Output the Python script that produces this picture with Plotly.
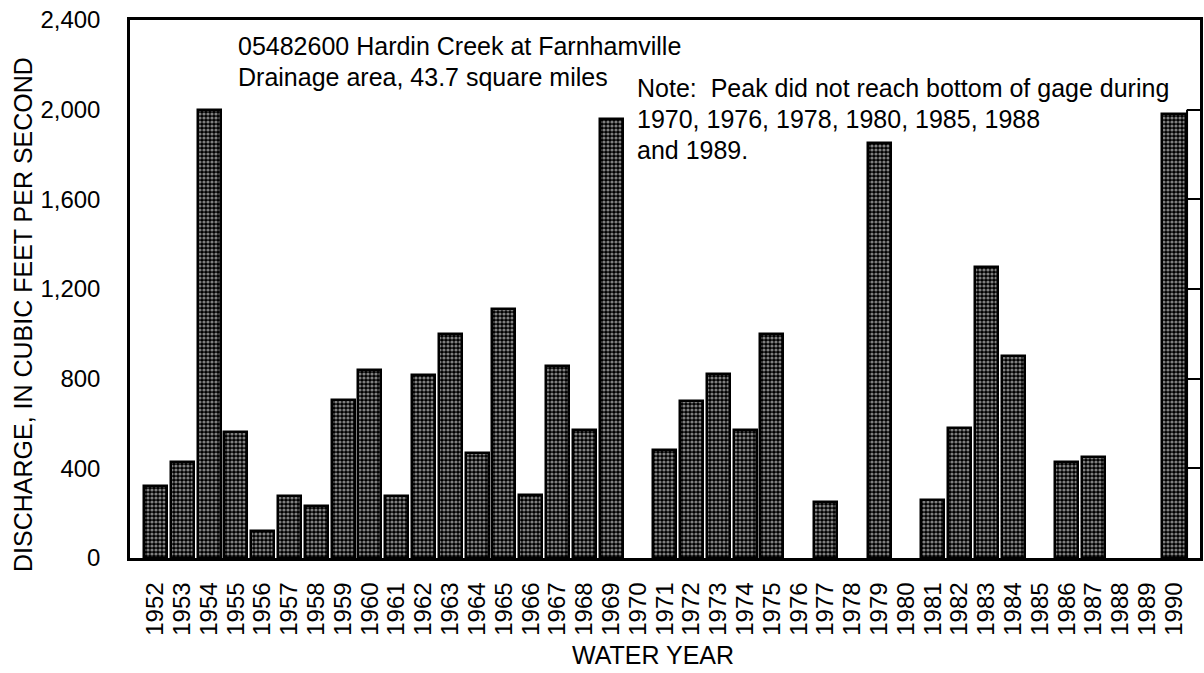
import plotly.graph_objects as go

years = list(range(1952, 1991))
discharge = [320, 430, 2000, 560, 120, 275, 230, 705, 840, 275,
             815, 1000, 468, 1110, 280, 855, 570, 1960, None, 480,
             700, 820, 570, 1000, None, 250, None, 1850, None, 260,
             580, 1300, 900, None, 430, 450, None, None, 1980]
year_labels = [str(y) for y in years]
y_ticks = [0, 400, 800, 1200, 1600, 2000, 2400]
right_ticks = [400, 800, 1200, 1600, 2000]

FONT = "Liberation Sans, Arial, Helvetica, sans-serif"

fig = go.Figure()
fig.add_trace(go.Bar(
    x=years, y=discharge, width=0.86,
    marker=dict(color="black", line=dict(color="black", width=2.5),
                pattern=dict(shape=".", fgcolor="white", bgcolor="black",
                             size=4, solidity=0.5)),
    showlegend=False, hoverinfo="x+y"))
# invisible trace to activate right axis
fig.add_trace(go.Scatter(x=[years[0]], y=[0], yaxis="y2", mode="markers",
                         marker=dict(opacity=0), showlegend=False, hoverinfo="skip"))

fig.update_layout(
    width=1204, height=673,
    margin=dict(l=130, r=4, t=20, b=115, autoexpand=False),
    paper_bgcolor="white", plot_bgcolor="white",
    font=dict(family=FONT, size=25, color="black"),
    xaxis=dict(range=[1951.05, 1990.97], tickmode="array", tickvals=years,
               ticktext=year_labels, tickangle=-90, ticks="", showgrid=False,
               zeroline=False, showline=True, linecolor="black", linewidth=2.5,
               mirror=True, ticklabelstandoff=12, automargin=False,
               tickfont=dict(size=24, family=FONT)),
    yaxis=dict(range=[0, 2400], tickmode="array", tickvals=y_ticks,
               tickformat=",", ticks="", showgrid=False, zeroline=False,
               showline=True, linecolor="black", linewidth=2.5, mirror=True,
               ticklabelstandoff=22, automargin=False,
               tickfont=dict(size=24, family=FONT)),
    yaxis2=dict(range=[0, 2400], overlaying="y", side="right", tickmode="array",
                tickvals=right_ticks, ticks="inside", ticklen=13, tickwidth=2,
                tickcolor="black", showticklabels=False, showgrid=False,
                zeroline=False, showline=False, automargin=False),
    bargap=0,
)

fig.add_shape(type="line", xref="paper", yref="y", x0=0.9879, x1=0.9879,
              y0=0, y1=2000, line=dict(color="black", width=2))

fig.add_annotation(xref="paper", yref="paper", x=0.099, y=(558 - 46) / 538,
                   xanchor="left", yanchor="middle", showarrow=False,
                   text="05482600 Hardin Creek at Farnhamville", font=dict(size=25))
fig.add_annotation(xref="paper", yref="paper", x=0.099, y=(558 - 77) / 538,
                   xanchor="left", yanchor="middle", showarrow=False,
                   text="Drainage area, 43.7 square miles", font=dict(size=25))
note_lines = ["Note:  Peak did not reach bottom of gage during",
              "1970, 1976, 1978, 1980, 1985, 1988",
              "and 1989."]
for i, line in enumerate(note_lines):
    fig.add_annotation(xref="paper", yref="paper", x=(635 - 130) / 1070,
                       y=(558 - (88 + 31 * i)) / 538, xanchor="left",
                       yanchor="middle", showarrow=False, text=line,
                       font=dict(size=25))
fig.add_annotation(xref="paper", yref="paper", x=(653 - 130) / 1070,
                   y=(558 - 655) / 538, xanchor="center", yanchor="middle",
                   showarrow=False, text="WATER YEAR", font=dict(size=25))
fig.add_annotation(xref="paper", yref="paper", x=(23 - 130) / 1070,
                   y=(558 - 315) / 538, xanchor="center", yanchor="middle",
                   textangle=-90, showarrow=False,
                   text="DISCHARGE, IN CUBIC FEET PER SECOND", font=dict(size=25))

fig.write_html("out.html", config={"displayModeBar": False},
               post_script="document.body.style.margin='0';document.body.style.overflow='hidden';")
